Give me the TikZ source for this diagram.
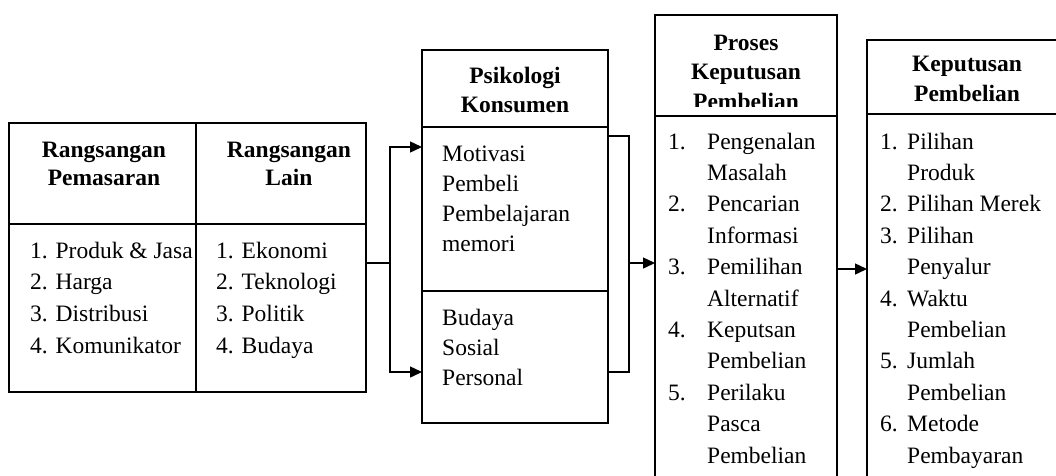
\documentclass[tikz,border=0pt]{standalone}
\usepackage{fontspec}
\setmainfont{Liberation Serif}
\usetikzlibrary{arrows.meta}
\begin{document}
\begin{tikzpicture}[x=1pt,y=-1pt,
  box/.style={draw, line width=1.5pt, anchor=north west, inner sep=0pt, outer sep=0pt},
  ln/.style={line width=1.4pt},
  arr/.style={line width=1.4pt, -{Triangle[length=12pt,width=11pt]}},
  hdr/.style={font=\fontsize{23.5}{28}\selectfont\bfseries, anchor=base, inner sep=0pt},
  itm/.style={font=\fontsize{23.5}{31.5}\selectfont, anchor=base west, inner sep=0pt},
]
\useasboundingbox (0,0) rectangle (1056,475);

% ---- boxes
\node[box, minimum width=187pt, minimum height=269pt] (rp) at (9,123) {};
\node[box, minimum width=170pt, minimum height=269pt] (rl) at (196,123) {};
\draw[line width=1.5pt] (rp.west |- 0,224) -- (rl.east |- 0,224);

\node[box, minimum width=186pt, minimum height=373pt] (psi) at (422,50) {};
\draw[line width=1.5pt] (psi.west |- 0,127) -- (psi.east |- 0,127);
\draw[line width=1.5pt] (psi.west |- 0,291) -- (psi.east |- 0,291);

\node[box, minimum width=182pt, minimum height=490pt] (pk) at (655,15) {};
\draw[line width=1.5pt] (pk.west |- 0,116) -- (pk.east |- 0,116);

\node[box, minimum width=200pt, minimum height=470pt] (kp) at (867,40) {};
\draw[line width=1.5pt] (kp.west |- 0,114) -- (kp.east |- 0,114);

% ---- connectors
\coordinate (j1) at (390,263);
\draw[ln] (rl.east |- j1) -- (j1);
\draw[arr] (j1) |- (psi.west |- 0,147);
\draw[arr] (j1) |- (psi.west |- 0,372);

\coordinate (j2) at (629,263);
\draw[ln] (psi.east |- 0,136) -| (j2);
\draw[ln] (psi.east |- 0,372) -| (j2);
\draw[arr] (j2) -- (pk.west |- j2);

\coordinate (j3) at (837,269);
\draw[arr] (j3) -- (kp.west |- j3);

% ---- headers
\foreach \t [count=\i] in {Rangsangan, Pemasaran}
  \node[hdr] (rph\i) at (104,{157+28.5*(\i-1)}) {\t};
\foreach \t [count=\i] in {Rangsangan, Lain}
  \node[hdr] (rlh\i) at (289,{157+28.5*(\i-1)}) {\t};
\foreach \t [count=\i] in {Psikologi, Konsumen}
  \node[hdr] (psh\i) at (515,{83.5+28.5*(\i-1)}) {\t};
\begin{scope}
  \clip (655,15) rectangle (837,106.5);
  \foreach \t [count=\i] in {Proses, Keputusan, Pembelian}
    \node[hdr] (pkh\i) at (746,{50+29.5*(\i-1)}) {\t};
\end{scope}
\foreach \t [count=\i] in {Keputusan, Pembelian}
  \node[hdr] (kph\i) at (967,{71.5+29.5*(\i-1)}) {\t};

% ---- items
\foreach \t [count=\i] in {1. Produk \& Jasa, 2. Harga, 3. Distribusi, 4. Komunikator}
  \node[itm] (rpi\i) at (30,{258+31.7*(\i-1)}) {\t};
\foreach \t [count=\i] in {1. Ekonomi, 2. Teknologi, 3. Politik, 4. Budaya}
  \node[itm] (rli\i) at (216,{258+31.7*(\i-1)}) {\t};
\foreach \t [count=\i] in {Motivasi, Pembeli, Pembelajaran, memori}
  \node[itm] (psa\i) at (442,{161+30.2*(\i-1)}) {\t};
\foreach \t [count=\i] in {Budaya, Sosial, Personal}
  \node[itm] (psb\i) at (442,{325+30*(\i-1)}) {\t};
\foreach \t [count=\i] in {{\makebox[39pt][l]{1.}Pengenalan}, {\hspace*{39pt}Masalah},
    {\makebox[39pt][l]{2.}Pencarian}, {\hspace*{39pt}Informasi},
    {\makebox[39pt][l]{3.}Pemilihan}, {\hspace*{39pt}Alternatif},
    {\makebox[39pt][l]{4.}Keputsan}, {\hspace*{39pt}Pembelian},
    {\makebox[39pt][l]{5.}Perilaku}, {\hspace*{39pt}Pasca}, {\hspace*{39pt}Pembelian}}
  \node[itm] (pki\i) at (668,{149+31.4*(\i-1)}) {\t};
\foreach \t [count=\i] in {{\makebox[27pt][l]{1.}Pilihan}, {\hspace*{27pt}Produk},
    {\makebox[27pt][l]{2.}Pilihan Merek},
    {\makebox[27pt][l]{3.}Pilihan}, {\hspace*{27pt}Penyalur},
    {\makebox[27pt][l]{4.}Waktu}, {\hspace*{27pt}Pembelian},
    {\makebox[27pt][l]{5.}Jumlah}, {\hspace*{27pt}Pembelian},
    {\makebox[27pt][l]{6.}Metode}, {\hspace*{27pt}Pembayaran}}
  \node[itm] (kpi\i) at (880,{149+31.4*(\i-1)}) {\t};
\end{tikzpicture}
\end{document}
